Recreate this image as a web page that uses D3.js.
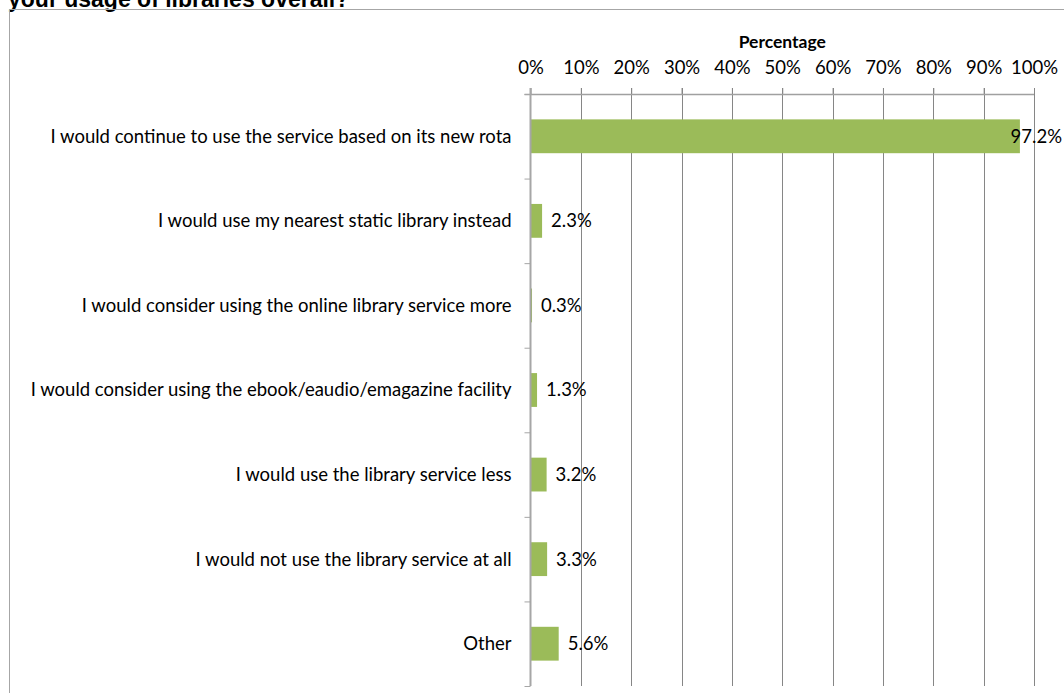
<!DOCTYPE html>
<html>
<head>
<meta charset="utf-8">
<script src="https://cdn.jsdelivr.net/npm/d3@7"></script>
<style>
  html, body { margin: 0; padding: 0; background: #fff; overflow: hidden; }
  svg { display: block; }
</style>
</head>
<body>
<svg id="chart" width="1064" height="693"></svg>
<script>
// Survey responses: what people would do about the new mobile library rota
const categories = [
  "I would continue to use the service based on its new rota",
  "I would use my nearest static library instead",
  "I would consider using the online library service more",
  "I would consider using the ebook/eaudio/emagazine facility",
  "I would use the library service less",
  "I would not use the library service at all",
  "Other"
];
const percentages = [97.2, 2.3, 0.3, 1.3, 3.2, 3.3, 5.6];
const tickValues = [0, 10, 20, 30, 40, 50, 60, 70, 80, 90, 100];
const titleText = "your usage of libraries overall?";
const axisTitle = "Percentage";

const svg = d3.select("#chart");
const W = 1064, H = 693;
const plot = { left: 530.5, right: 1034, top: 94, bottom: 686 };
const labelFont = "Lato, 'Open Sans', sans-serif";
const fs = 18.5;

// Question title, partly above the visible area
svg.append("text")
  .attr("x", 8).attr("y", 7)
  .attr("font-family", "'Liberation Sans', Arial, sans-serif")
  .attr("font-weight", "bold").attr("font-size", 23)
  .attr("fill", "#000")
  .text(titleText);

// Chart frame
svg.append("rect")
  .attr("x", 9.5).attr("y", 9.5)
  .attr("width", W + 20).attr("height", H + 20)
  .attr("fill", "none").attr("stroke", "#a6a6a6").attr("stroke-width", 1);

const x = d3.scaleLinear().domain([0, 100]).range([plot.left, plot.right]);
const y = d3.scaleBand().domain(categories)
  .range([plot.top, plot.bottom])
  .paddingInner(0.6).paddingOuter(0.3);
const step = y.step();

// Vertical gridlines
svg.append("g").selectAll("line")
  .data(tickValues.filter(v => v > 0))
  .join("line")
  .attr("x1", d => Math.round(x(d)) + 0.5).attr("x2", d => Math.round(x(d)) + 0.5)
  .attr("y1", plot.top - 6).attr("y2", plot.bottom)
  .attr("stroke", "#868686").attr("stroke-width", 1);

// Top value axis
const xAxis = d3.axisTop(x)
  .tickValues(tickValues)
  .tickFormat(d => d + "%")
  .tickSize(6).tickPadding(14);
const gx = svg.append("g")
  .attr("transform", `translate(0,${plot.top})`)
  .call(xAxis);
gx.select(".domain").remove();
gx.selectAll(".tick line").attr("stroke", "#868686");
gx.selectAll(".tick text")
  .attr("font-family", labelFont).attr("font-size", fs).attr("fill", "#000");
svg.append("line")
  .attr("x1", plot.left - 6).attr("x2", plot.right)
  .attr("y1", plot.top + 0.5).attr("y2", plot.top + 0.5)
  .attr("stroke", "#a0a0a0").attr("stroke-width", 1.5);

// Axis title
svg.append("text")
  .attr("x", (plot.left + plot.right) / 2).attr("y", 48)
  .attr("text-anchor", "middle")
  .attr("font-family", labelFont).attr("font-weight", "bold").attr("font-size", 17.5)
  .attr("fill", "#000")
  .text(axisTitle);

// Bars
svg.append("g").selectAll("rect")
  .data(percentages)
  .join("rect")
  .attr("x", plot.left)
  .attr("y", (d, i) => y(categories[i]))
  .attr("width", d => x(d) - x(0))
  .attr("height", y.bandwidth())
  .attr("fill", "#9bbb59");

// Category axis (left)
const ga = svg.append("g");
ga.append("line")
  .attr("x1", plot.left).attr("x2", plot.left)
  .attr("y1", plot.top - 6).attr("y2", plot.bottom)
  .attr("stroke", "#a6a6a6").attr("stroke-width", 2);
ga.selectAll("line.cat-tick")
  .data(d3.range(categories.length + 1))
  .join("line")
  .attr("class", "cat-tick")
  .attr("x1", plot.left - 6).attr("x2", plot.left)
  .attr("y1", i => plot.top + i * step + 0.5).attr("y2", i => plot.top + i * step + 0.5)
  .attr("stroke", "#a6a6a6").attr("stroke-width", 1);

svg.append("g").selectAll("text")
  .data(categories)
  .join("text")
  .attr("x", plot.left - 19)
  .attr("y", d => y(d) + y.bandwidth() / 2)
  .attr("dy", "0.35em")
  .attr("text-anchor", "end")
  .attr("font-family", labelFont).attr("font-size", fs).attr("fill", "#000")
  .text(d => d);

// Value labels, kept inside the right edge
svg.append("g").selectAll("text")
  .data(percentages)
  .join("text")
  .attr("y", (d, i) => y(categories[i]) + y.bandwidth() / 2)
  .attr("dy", "0.35em")
  .attr("font-family", labelFont).attr("font-size", fs).attr("fill", "#000")
  .text(d => d.toFixed(1) + "%")
  .attr("x", function(d) {
    const w = this.getComputedTextLength();
    return Math.min(x(d) + 9, W - 2 - w);
  });
</script>
</body>
</html>
